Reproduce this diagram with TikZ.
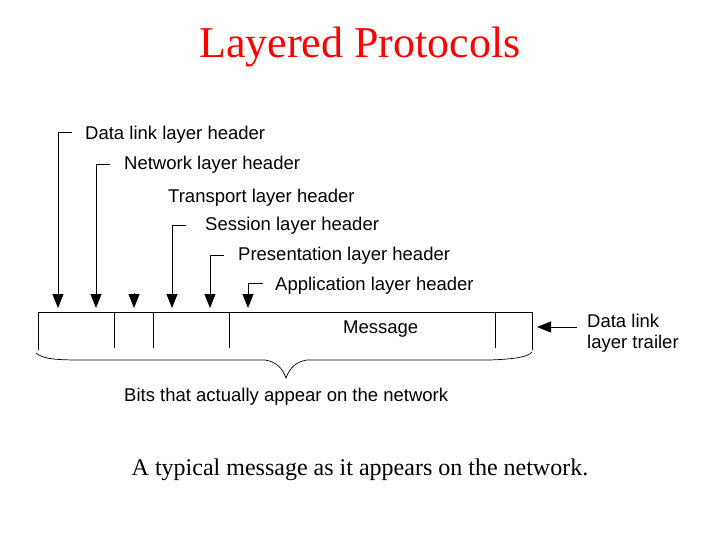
\documentclass[tikz,border=0pt]{standalone}
\usepackage{fontspec}
\usetikzlibrary{arrows.meta}
\setmainfont{Liberation Serif}
\newfontfamily\lab{Liberation Sans}
\begin{document}
\begin{tikzpicture}[x=1pt,y=-1pt,
 lbl/.style={font=\lab\fontsize{18.5}{21}\selectfont,anchor=west,inner sep=0pt},
 arr/.style={-{Triangle[width=11pt,length=14pt]},line width=1pt},
 ln/.style={line width=1pt}]
\useasboundingbox (0,0) rectangle (720,540);
\node[font=\fontsize{44}{48}\selectfont,text=red] (title) at (360,47) {Layered Protocols};
\node[lbl] (l1) at (85,135) {Data link layer header};
\node[lbl] (l2) at (124,165) {Network layer header};
\node[lbl] (l3) at (168,198) {Transport layer header};
\node[lbl] (l4) at (205,226) {Session layer header};
\node[lbl] (l5) at (238,256) {Presentation layer header};
\node[lbl] (l6) at (275,286) {Application layer header};
\node[lbl] (msg) at (343,329) {Message};
\node[lbl,align=left] (tr) at (587,333) {Data link\\layer trailer};
\node[lbl] (bits) at (124,397) {Bits that actually appear on the network};
\node[font=\fontsize{24}{28}\selectfont] (cap) at (360,470) {A typical message as it appears on the network.};
\coordinate (t1) at (58,308);\coordinate (t2) at (96,308);\coordinate (t3) at (134,308);
\coordinate (t4) at (172,308);\coordinate (t5) at (210,308);\coordinate (t6) at (248,308);
\draw[arr] (72,133) -- (58,133) -- (t1);
\draw[arr] (110,165) -- (96,165) -- (t2);
\draw[arr] (134,293) -- (t3);
\draw[arr] (186,226) -- (172,226) -- (t4);
\draw[arr] (224,255) -- (210,255) -- (t5);
\draw[arr] (263,283) -- (248,283) -- (t6);
\draw[arr] (577,327) -- (537,327);
\draw[ln] (38,350) -- (38,312) -- (532,312) -- (532,350);
\foreach \x in {114,153,229,495} \draw[ln] (\x,312) -- (\x,348);
\draw[line width=0.7pt] (36,353) .. controls (42,358) and (50,360) .. (80,360) -- (265,360) .. controls (278,362) and (283,370) .. (286,378)
  .. controls (289,370) and (294,362) .. (307,360) -- (490,360) .. controls (515,359) and (528,357) .. (532,352);
\end{tikzpicture}
\end{document}
